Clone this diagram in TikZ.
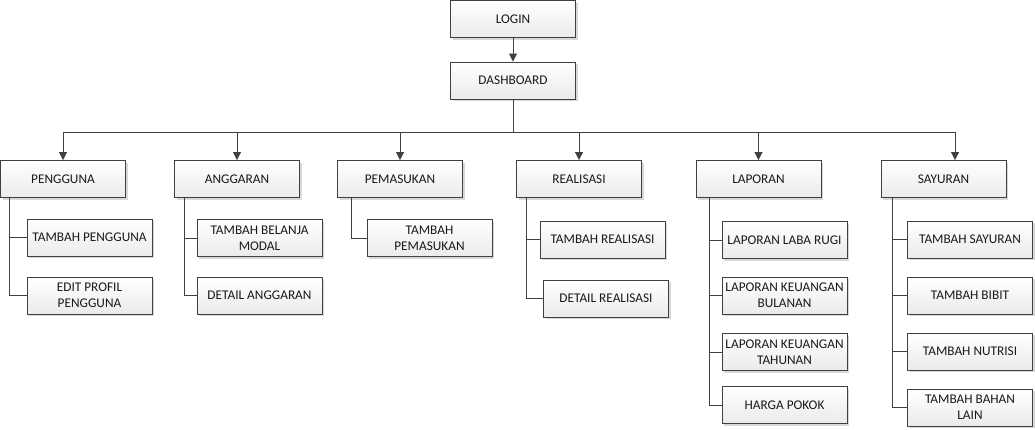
\documentclass[tikz,border=0pt]{standalone}
\usepackage{fontspec}
\setmainfont{Carlito}
\usetikzlibrary{shadows,arrows.meta}
\definecolor{ln}{HTML}{404040}
\tikzset{
  box/.style={draw=ln, line width=0.9pt, top color=white, bottom color=gray!16,
    minimum width=125pt, minimum height=37pt, inner sep=1pt, align=center,
    font=\fontsize{13.3}{16}\selectfont, text=black!90,
    drop shadow={shadow xshift=2pt, shadow yshift=-2pt, fill=gray!60, opacity=0.5}},
  conn/.style={draw=ln, line width=0.9pt},
  arr/.style={conn, -{Triangle[length=8pt,width=8pt]}}
}
\begin{document}
\begin{tikzpicture}[x=1pt,y=-1pt]
\useasboundingbox (0,0) rectangle (1035,429);
% top
\node[box] (login) at (513,19) {LOGIN};
\node[box] (dash) at (513,80.5) {DASHBOARD};
% level 1
\node[box] (pg) at (63,179) {PENGGUNA};
\node[box] (ag) at (237,179) {ANGGARAN};
\node[box] (pm) at (400,179) {PEMASUKAN};
\node[box] (rl) at (579,179) {REALISASI};
\node[box] (lp) at (758.5,179) {LAPORAN};
\node[box] (sy) at (943.5,179) {SAYURAN};
% children
\node[box] (pg1) at (89.5,237.5) {TAMBAH PENGGUNA};
\node[box] (pg2) at (89.5,295.5) {EDIT PROFIL\\PENGGUNA};
\node[box] (ag1) at (259.5,238) {TAMBAH BELANJA\\MODAL};
\node[box] (ag2) at (259.5,295.5) {DETAIL ANGGARAN};
\node[box] (pm1) at (429.5,238) {TAMBAH\\PEMASUKAN};
\node[box] (rl1) at (602.5,239.5) {TAMBAH REALISASI};
\node[box] (rl2) at (606,298.5) {DETAIL REALISASI};
\node[box] (lp1) at (784.5,240) {LAPORAN LABA RUGI};
\node[box] (lp2) at (784.5,295.5) {LAPORAN KEUANGAN\\BULANAN};
\node[box] (lp3) at (784.5,352) {LAPORAN KEUANGAN\\TAHUNAN};
\node[box] (lp4) at (784.5,405) {HARGA POKOK};
\node[box] (sy1) at (970,239.5) {TAMBAH SAYURAN};
\node[box] (sy2) at (970,295.5) {TAMBAH BIBIT};
\node[box] (sy3) at (970,351.5) {TAMBAH NUTRISI};
\node[box] (sy4) at (970,407.5) {TAMBAH BAHAN\\LAIN};
% connectors
\draw[arr] (login) -- (dash);
\coordinate (bus) at (513,132);
\draw[conn] (dash.south) -- (bus);
\draw[arr] (bus) -| (pg.north);
\draw[arr] (bus) -| (ag.north);
\draw[arr] (bus) -| (pm.north);
\draw[arr] (bus) -| (rl.north);
\draw[arr] (bus) -| (lp.north);
\draw[arr] (bus) -| ([xshift=11.5pt]sy.north);
% sub connectors
\draw[conn] ([xshift=9pt]pg.south west) |- (pg1.west);
\draw[conn] ([xshift=9pt]pg.south west) |- (pg2.west);
\draw[conn] ([xshift=10pt]ag.south west) |- (ag1.west);
\draw[conn] ([xshift=10pt]ag.south west) |- (ag2.west);
\draw[conn] ([xshift=14pt]pm.south west) |- (pm1.west);
\draw[conn] ([xshift=10pt]rl.south west) |- (rl1.west);
\draw[conn] ([xshift=10pt]rl.south west) |- (rl2.west);
\draw[conn] ([xshift=14pt]lp.south west) |- (lp1.west);
\draw[conn] ([xshift=14pt]lp.south west) |- (lp2.west);
\draw[conn] ([xshift=14pt]lp.south west) |- (lp3.west);
\draw[conn] ([xshift=14pt]lp.south west) |- (lp4.west);
\draw[conn] ([xshift=12pt]sy.south west) |- (sy1.west);
\draw[conn] ([xshift=12pt]sy.south west) |- (sy2.west);
\draw[conn] ([xshift=12pt]sy.south west) |- (sy3.west);
\draw[conn] ([xshift=12pt]sy.south west) |- (sy4.west);
\end{tikzpicture}
\end{document}
